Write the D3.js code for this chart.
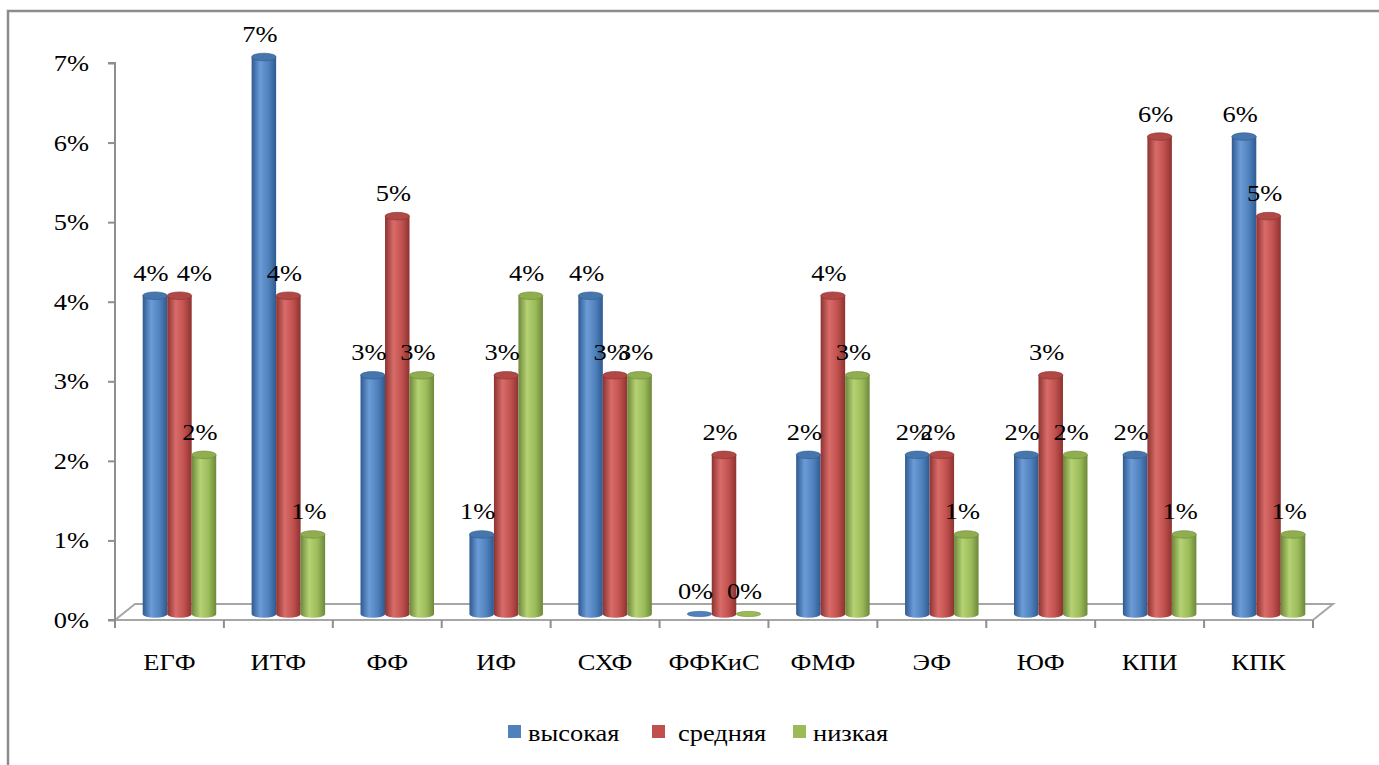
<!DOCTYPE html>
<html>
<head>
<meta charset="utf-8">
<script src="https://cdn.jsdelivr.net/npm/d3@7"></script>
<style>
  body { margin: 0; background: #fff; }
  svg text { font-family: 'Liberation Serif', 'Times New Roman', serif; fill: #000; }
</style>
</head>
<body>
<svg id="chart" width="1379" height="765"></svg>
<script>
// data
var categories = ["ЕГФ", "ИТФ", "ФФ", "ИФ", "СХФ", "ФФКиС", "ФМФ", "ЭФ", "ЮФ", "КПИ", "КПК"];
var seriesNames = ["высокая", "средняя", "низкая"];
var high = [4, 7, 3, 1, 4, 0, 2, 2, 2, 2, 6];
var mid = [4, 4, 5, 3, 3, 2, 4, 2, 3, 6, 5];
var low = [2, 1, 3, 4, 3, 0, 3, 1, 2, 1, 1];
var yTicks = [0, 1, 2, 3, 4, 5, 6, 7];

var colors = [
  {base: "#4F81BD", dark: "#2f5a8f", light: "#6c9cd8", top: "#4776ad"},
  {base: "#C0504D", dark: "#8c3331", light: "#d86c69", top: "#b04845"},
  {base: "#9BBB59", dark: "#6c883a", light: "#b5d274", top: "#8eae50"}
];

var FS = 23, SX = 1.15;   // the picture's text is a bit stretched sideways
var svg = d3.select("#chart");

var plotLeft = 115, plotRight = 1313, plotBottom = 620, plotTop = 63;
var depthX = 20, depthY = 16;
var barW = 24.5, rx = barW / 2, ry = 3.8;

var x = d3.scaleBand().domain(categories).range([plotLeft, plotRight]);
var y = d3.scaleLinear().domain([0, 7]).range([plotBottom, plotTop]);

var label = function(sel, px, py, anchor) {
  return sel.attr("transform", function(d, i) {
      return "translate(" + px(d, i) + "," + py(d, i) + ") scale(" + SX + ",1)";
    })
    .attr("text-anchor", anchor).attr("font-size", FS)
    .style("font-family", "'Liberation Serif', serif");
};

// frame
svg.append("path")
  .attr("d", "M8,765 L8,11 L1379,11")
  .attr("fill", "none").attr("stroke", "#8c8c8c").attr("stroke-width", 2.5);

// gradients
var defs = svg.append("defs");
colors.forEach(function(c, i) {
  var g = defs.append("linearGradient").attr("id", "cyl" + i)
    .attr("x1", "0").attr("x2", "1").attr("y1", "0").attr("y2", "0");
  g.append("stop").attr("offset", "0").attr("stop-color", c.dark);
  g.append("stop").attr("offset", "0.35").attr("stop-color", c.light);
  g.append("stop").attr("offset", "0.7").attr("stop-color", c.base);
  g.append("stop").attr("offset", "1").attr("stop-color", c.dark);
});

var gray = "#8e8e8e";

// floor
svg.append("path")
  .attr("d", "M" + plotLeft + "," + plotBottom + " L" + (plotLeft + depthX) + "," + (plotBottom - depthY) +
    " L" + (plotRight + depthX) + "," + (plotBottom - depthY) + " L" + plotRight + "," + plotBottom)
  .attr("fill", "none").attr("stroke", "#a6a6a6").attr("stroke-width", 2);
svg.append("line")
  .attr("x1", plotLeft).attr("x2", plotRight).attr("y1", plotBottom).attr("y2", plotBottom)
  .attr("stroke", "#a6a6a6").attr("stroke-width", 2);

// y axis (ticks from d3, labels placed by hand for the stretch)
var yAxis = d3.axisLeft(y).tickValues(yTicks).tickSize(7).tickFormat("");
var ya = svg.append("g").attr("transform", "translate(" + plotLeft + ",0)").call(yAxis);
ya.select(".domain").attr("stroke", gray).attr("stroke-width", 2)
  .attr("d", "M-7," + plotTop + "H0V" + plotBottom + "H-7");
ya.selectAll(".tick line").attr("stroke", gray).attr("stroke-width", 2);
label(svg.append("g").selectAll("text").data(yTicks).join("text"),
  function() { return 89; }, function(d) { return y(d) + 8; }, "end")
  .text(function(d) { return d + "%"; });

// x axis ticks
var xt = categories.map(function(c) { return x(c); }).concat([plotRight]);
svg.append("g").selectAll("line").data(xt).join("line")
  .attr("x1", function(d) { return d; }).attr("x2", function(d) { return d; })
  .attr("y1", plotBottom).attr("y2", plotBottom + 8)
  .attr("stroke", gray).attr("stroke-width", 2);
label(svg.append("g").selectAll("text").data(categories).join("text"),
  function(d) { return x(d) + x.bandwidth() / 2; }, function() { return 670; }, "middle")
  .text(function(d) { return d; });

// bars
var series = [high, mid, low];
var baseY = function(v) { return y(v) - 6; };
var barX = function(si, ci) { return x(categories[ci]) + x.bandwidth() / 2 + depthX / 2 + (si - 1) * barW; };
series.forEach(function(vals, si) {
  var c = colors[si];
  var g = svg.append("g");
  vals.forEach(function(v, ci) {
    var cx = barX(si, ci);
    var y0 = baseY(0), y1 = baseY(v);
    if (v > 0) {
      g.append("path")
        .attr("d", "M" + (cx - rx) + "," + y1 + " L" + (cx - rx) + "," + y0 +
          " A" + rx + "," + ry + " 0 0 0 " + (cx + rx) + "," + y0 +
          " L" + (cx + rx) + "," + y1 + " Z")
        .attr("fill", "url(#cyl" + si + ")");
      g.append("ellipse")
        .attr("cx", cx).attr("cy", y1).attr("rx", rx).attr("ry", ry)
        .attr("fill", c.top).attr("stroke", c.dark).attr("stroke-width", 0.6);
    } else {
      g.append("ellipse")
        .attr("cx", cx).attr("cy", y0).attr("rx", rx).attr("ry", ry * 0.7)
        .attr("fill", c.base).attr("stroke", c.dark).attr("stroke-width", 0.5);
    }
  });
});

// labels (the ЕГФ "средняя" label was dragged right in the original)
var nudge = function(si, ci) { return (si === 1 && ci === 0) ? 15 : -4; };
series.forEach(function(vals, si) {
  label(svg.append("g").selectAll("text").data(vals).join("text"),
    function(d, ci) { return barX(si, ci) + nudge(si, ci); }, function(d) { return baseY(d) - 15; }, "middle")
    .text(function(d) { return d + "%"; });
});

// legend
var legendX = [508, 652, 793];
var lg = svg.append("g");
seriesNames.forEach(function(n, i) {
  lg.append("rect").attr("x", legendX[i]).attr("y", 725).attr("width", 13).attr("height", 13)
    .attr("fill", colors[i].base);
});
label(lg.selectAll("text").data(seriesNames).join("text"),
  function(d, i) { return legendX[i] + (i === 1 ? 26 : 20); }, function() { return 741; }, "start")
  .text(function(d) { return d; });
</script>
</body>
</html>
